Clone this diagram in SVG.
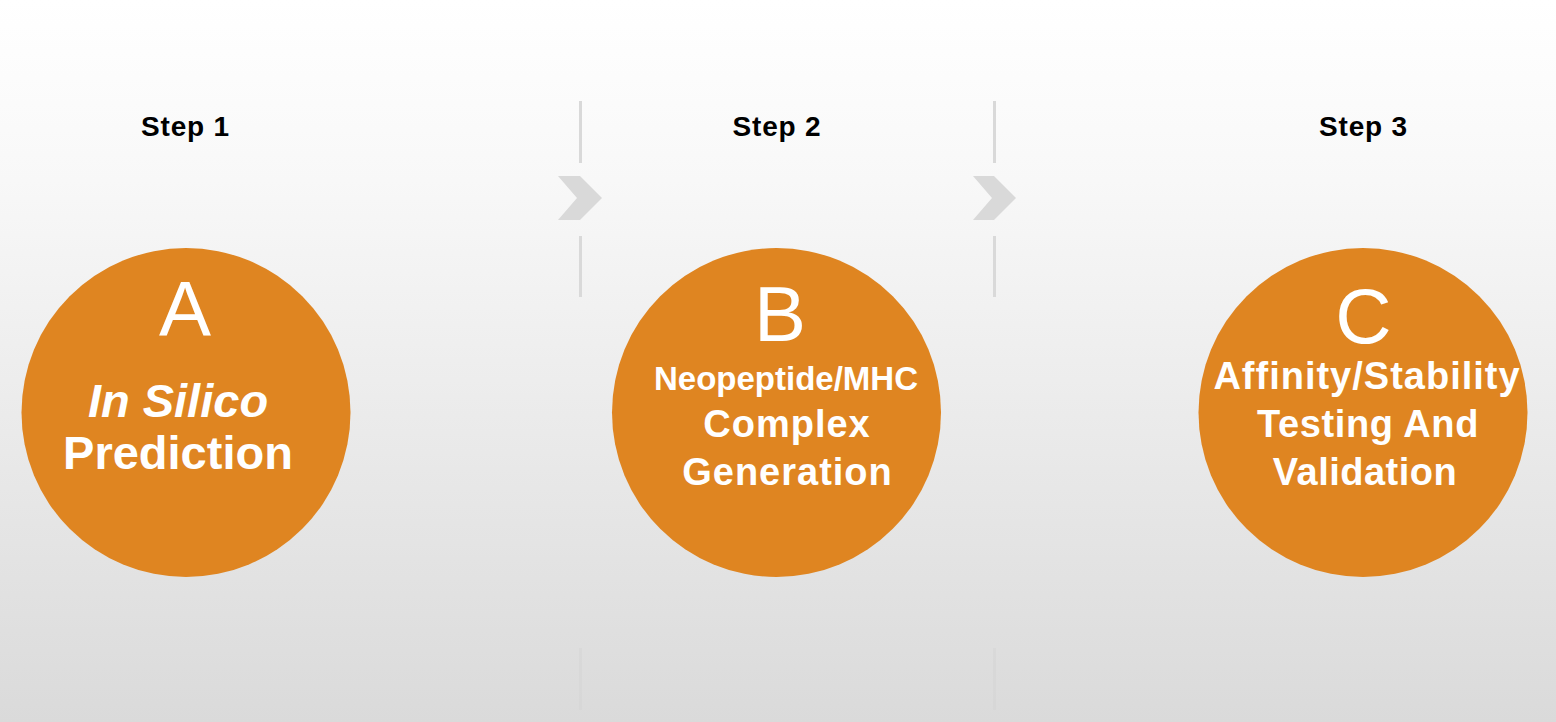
<svg xmlns="http://www.w3.org/2000/svg" width="1556" height="722" viewBox="0 0 1556 722">
<defs>
<linearGradient id="bg" x1="0" y1="0" x2="0" y2="1">
<stop offset="0" stop-color="#ffffff"/>
<stop offset="0.25" stop-color="#f8f8f8"/>
<stop offset="1" stop-color="#dadada"/>
</linearGradient>
<style>
.step{font-family:"Liberation Sans",Arial,sans-serif;font-weight:bold;font-size:28px;fill:#000;text-anchor:middle;letter-spacing:0.8px}
.circ{fill:#DF8521}
.big{font-family:"Liberation Sans",Arial,sans-serif;font-size:78px;fill:#fff;text-anchor:middle}
.lbl{font-family:"Liberation Sans",Arial,sans-serif;font-weight:bold;fill:#fff;text-anchor:middle}
.sep{stroke:#d9d9d9;stroke-width:3}
.sepf{stroke:#d6d6d6;stroke-width:3;opacity:0.6}
.chev{fill:#d9d9d9}
</style>
</defs>
<rect x="0" y="0" width="1556" height="722" fill="url(#bg)"/>
<g id="connectors">
<line class="sep" x1="580.5" y1="101" x2="580.5" y2="163"/>
<line class="sep" x1="580.5" y1="236" x2="580.5" y2="297"/>
<polygon class="chev" points="558,176 580,176 602,198 580,220 558,220 577,198"/>
<line class="sepf" x1="580.5" y1="648" x2="580.5" y2="710"/>
<line class="sep" x1="994.5" y1="101" x2="994.5" y2="163"/>
<line class="sep" x1="994.5" y1="236" x2="994.5" y2="297"/>
<polygon class="chev" points="973,176 994,176 1016,198 994,220 973,220 992,198"/>
<line class="sepf" x1="994.5" y1="648" x2="994.5" y2="710"/>
</g>
<g id="step1">
<text class="step" x="185.5" y="136">Step 1</text>
</g>
<g id="step2">
<text class="step" x="777" y="136">Step 2</text>
</g>
<g id="step3">
<text class="step" x="1363.5" y="136">Step 3</text>
</g>
<g id="nodeA">
<circle class="circ" cx="186" cy="412.5" r="164.5"/>
<text class="big" x="185" y="336">A</text>
<text class="lbl" x="178" y="417" font-size="47" font-style="italic">In Silico</text>
<text class="lbl" x="178" y="469" font-size="47">Prediction</text>
</g>
<g id="nodeB">
<circle class="circ" cx="776.5" cy="412.5" r="164.5"/>
<text class="big" x="780" y="341">B</text>
<text class="lbl" x="786" y="390" font-size="33">Neopeptide/MHC</text>
<text class="lbl" x="787" y="437" font-size="38" letter-spacing="1">Complex</text>
<text class="lbl" x="787.5" y="485" font-size="38" letter-spacing="1">Generation</text>
</g>
<g id="nodeC">
<circle class="circ" cx="1363" cy="412.5" r="164.5"/>
<text class="big" x="1363.5" y="343">C</text>
<text class="lbl" x="1367" y="389" font-size="38" letter-spacing="1">Affinity/Stability</text>
<text class="lbl" x="1368" y="437" font-size="38" letter-spacing="0.6">Testing And</text>
<text class="lbl" x="1365" y="485" font-size="38" letter-spacing="0.5">Validation</text>
</g>
</svg>
